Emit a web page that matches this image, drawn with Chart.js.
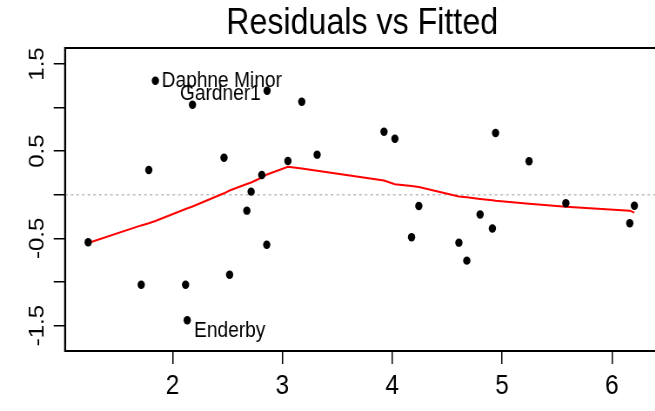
<!DOCTYPE html>
<html>
<head>
<meta charset="utf-8">
<script src="https://cdn.jsdelivr.net/npm/chart.js@4.4.0/dist/chart.umd.min.js"></script>
<style>
  html, body { margin: 0; padding: 0; background: #fff; overflow: hidden; }
  /* the reference looks squeezed sideways, so draw wider and scale down */
  #wrap { width: 762px; height: 411px; transform: scaleX(0.87); transform-origin: 0 0; }
</style>
</head>
<body>
<div id="wrap"><canvas id="chart"></canvas></div>
<script>
const fitted = [1.231, 1.714, 2.118, 2.133, 1.783, 1.843, 2.181, 2.860, 3.176, 2.468,
                3.050, 3.316, 2.812, 2.715, 2.676, 2.857, 2.519, 3.925, 4.024, 4.242,
                4.941, 5.246, 5.581, 6.205, 6.163, 4.912, 4.176, 4.607, 4.679, 4.800];
const residuals = [-0.545, -1.031, -1.031, -1.439, 0.284, 1.308, 1.033, 1.193, 1.067, 0.425,
                   0.387, 0.460, 0.227, 0.036, -0.182, -0.572, -0.916, 0.723, 0.643, -0.128,
                   0.708, 0.384, -0.097, -0.125, -0.327, -0.386, -0.487, -0.549, -0.755, -0.226];

// lowess smooth (red line)
const smoothX = [1.231, 1.714, 1.783, 1.843, 2.118, 2.181, 2.468, 2.519, 2.676, 2.715,
                 2.812, 2.860, 3.050, 3.176, 3.316, 3.925, 4.024, 4.176, 4.242, 4.607,
                 4.679, 4.800, 4.912, 4.941, 5.246, 5.581, 6.163, 6.205];
const smoothY = [-0.553, -0.351, -0.327, -0.300, -0.163, -0.134, 0.017, 0.049, 0.124, 0.141,
                 0.198, 0.233, 0.322, 0.302, 0.275, 0.164, 0.120, 0.101, 0.089, -0.019,
                 -0.029, -0.048, -0.063, -0.068, -0.102, -0.138, -0.182, -0.205];

const labelText = ["Daphne Minor", "Gardner1", "Enderby"];
const labelX = [1.900, 2.067, 2.195];
const labelY = [1.305, 1.159, -1.556];

const xTicks = [2, 3, 4, 5, 6];
const yTicks = [-1.5, -1, -0.5, 0, 0.5, 1, 1.5];
const yTickLabels = ["-1.5", "", "-0.5", "", "0.5", "", "1.5"];

const fontFamily = "'Liberation Sans', Arial, sans-serif";

const points = fitted.map((x, i) => ({x: x, y: residuals[i]}));
const smooth = smoothX.map((x, i) => ({x: x, y: smoothY[i]}));

const extras = {
    id: "extras",
    beforeDatasetsDraw(chart) {
        const {ctx, chartArea} = chart;
        const y0 = chart.scales.y.getPixelForValue(0);
        ctx.save();
        ctx.strokeStyle = "#bebebe";
        ctx.lineWidth = 1.5;
        ctx.setLineDash([3, 3.5]);
        ctx.beginPath();
        ctx.moveTo(chartArea.left, y0);
        ctx.lineTo(chartArea.right, y0);
        ctx.stroke();
        ctx.restore();
    },
    afterDraw(chart) {
        const {ctx, chartArea} = chart;
        const xs = chart.scales.x, ys = chart.scales.y;
        ctx.save();
        // box
        ctx.strokeStyle = "#000";
        ctx.lineWidth = 2;
        ctx.strokeRect(chartArea.left, chartArea.top, chartArea.right - chartArea.left, chartArea.bottom - chartArea.top);

        // y tick labels, turned like in R
        ctx.fillStyle = "#000";
        ctx.font = "24px " + fontFamily;
        ctx.textAlign = "center";
        ctx.textBaseline = "alphabetic";
        yTicks.forEach((v, i) => {
            if (!yTickLabels[i]) return;
            ctx.save();
            ctx.translate(50, ys.getPixelForValue(v));
            ctx.rotate(-Math.PI / 2);
            ctx.fillText(yTickLabels[i], 0, 0);
            ctx.restore();
        });

        // point labels
        ctx.font = "22px " + fontFamily;
        ctx.textAlign = "left";
        ctx.textBaseline = "middle";
        labelText.forEach((t, i) => {
            ctx.fillText(t, xs.getPixelForValue(labelX[i]), ys.getPixelForValue(labelY[i]));
        });
        ctx.restore();
    }
};

new Chart(document.getElementById("chart"), {
    type: "scatter",
    data: {
        datasets: [
            {
                type: "line",
                data: smooth,
                borderColor: "#ff0000",
                borderWidth: 2,
                pointRadius: 0,
                fill: false,
                tension: 0,
                order: 2
            },
            {
                data: points,
                pointRadius: 4.2,
                pointBackgroundColor: "#000",
                pointBorderColor: "#000",
                pointBorderWidth: 0,
                order: 1
            }
        ]
    },
    options: {
        responsive: true,
        maintainAspectRatio: false,
        animation: false,
        layout: {padding: 0},
        plugins: {
            legend: {display: false},
            tooltip: {enabled: false},
            title: {
                display: true,
                text: "Residuals vs Fitted",
                fullSize: false,
                color: "#000",
                font: {family: fontFamily, size: 37, weight: "normal", lineHeight: 1.2},
                padding: {top: 2, bottom: 1.6}
            }
        },
        scales: {
            x: {
                type: "linear",
                min: 1.020,
                max: 6.432,
                afterBuildTicks: (s) => { s.ticks = xTicks.map(v => ({value: v})); },
                afterFit: (s) => { s.height = 60; },
                grid: {drawOnChartArea: false, drawTicks: true, tickLength: 13, color: "#000", lineWidth: 1.5},
                border: {display: true, color: "#000", width: 2},
                ticks: {color: "#000", font: {family: fontFamily, size: 28}, padding: 5, maxRotation: 0}
            },
            y: {
                type: "linear",
                min: -1.791,
                max: 1.683,
                afterBuildTicks: (s) => { s.ticks = yTicks.map(v => ({value: v})); },
                afterFit: (s) => { s.width = 74.7; },
                grid: {drawOnChartArea: false, drawTicks: true, tickLength: 13, color: "#000", lineWidth: 1.5},
                border: {display: true, color: "#000", width: 2},
                ticks: {display: false}
            }
        }
    },
    plugins: [extras]
});
</script>
</body>
</html>
